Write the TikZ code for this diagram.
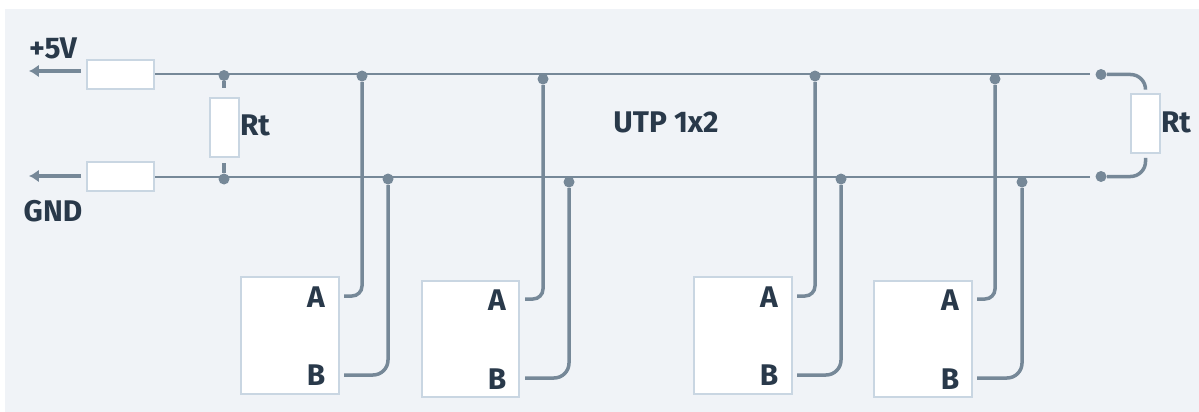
\documentclass[tikz,border=0pt]{standalone}
\usepackage{fontspec}
\setmainfont{Fira Sans}
\usetikzlibrary{%
  calc,%
  arrows.meta%
}
\definecolor{panel}{HTML}{F0F3F7}
\definecolor{edge}{HTML}{C9D6E2}
\definecolor{wirec}{HTML}{768898}
\definecolor{ink}{HTML}{29394A}
\tikzset{
  part/.style={draw=edge,fill=white,line width=0.04cm,minimum width=1.36cm,minimum height=0.58cm,inner sep=0pt},
  term/.style={part,minimum width=0.58cm,minimum height=1.18cm},
  device/.style={part,minimum width=1.96cm,minimum height=2.34cm},
  bus/.style={wirec,line width=0.04cm},
  wire/.style={wirec,line width=0.07cm,rounded corners=0.2cm},
  widewire/.style={wire,rounded corners=0.3cm},
  lead/.style={wirec,line width=0.07cm,-{Latex[length=0.2cm,width=0.26cm]}},
  dot/.style={circle,fill=wirec,minimum size=0.22cm,inner sep=0pt},
  tag/.style={ink,font=\bfseries\fontsize{17pt}{19pt}\selectfont,inner sep=0pt}
}
\begin{document}
\begin{tikzpicture}[x=0.02cm,y=-0.02cm]
  \useasboundingbox (0,0) rectangle (1199,412);
  \fill[panel] (5,9) rectangle (1199,412);

  % supply side
  \node[part] (fusep) at (120.5,74.5) {};
  \node[part] (fusen) at (120.5,176.5) {};
  \coordinate (portp) at (29,71);
  \coordinate (portn) at (29,176);
  \draw[lead] (81,71) -- (portp);
  \draw[lead] (81,176) -- (portn);
  \node[tag] (vcc) at (53,48) {+5V};
  \node[tag] (gnd) at (53,211) {GND};

  % bus ends
  \coordinate (endp) at (1090,74.5);
  \coordinate (endn) at (1090,176.5);
  \draw[bus] (fusep.east) -- (endp);
  \draw[bus] (fusen.east) -- (endn);
  \node[tag] (cable) at (666,122) {UTP 1x2};

  % left terminator
  \node[term] (rtl) at (224,127.5) {};
  \node[tag] (rtltxt) at (255,125) {Rt};
  \node[dot] (lp) at (224,75.5) {};
  \node[dot] (ln) at (224,179) {};
  \draw[wirec,line width=0.07cm] (lp) -- ($(rtl.north)+(0,-9)$);
  \draw[wirec,line width=0.07cm] (ln) -- ($(rtl.south)+(0,5)$);

  % right terminator
  \node[term] (rtr) at (1145.5,123.5) {};
  \node[tag] (rtrtxt) at (1176,122) {Rt};
  \node[dot] (rp) at (1101,74.5) {};
  \node[dot] (rn) at (1101,176.5) {};
  \draw[widewire] (rp) -| ($(rtr.north)+(0,-4)$);
  \draw[widewire] (rn) -| ($(rtr.south)+(0,4)$);

  % devices
  \node[device] (d1) at (290,335.5) {};
  \node[device] (d2) at (470.5,339) {};
  \node[device] (d3) at (742.5,335.5) {};
  \node[device] (d4) at (923,339) {};
  \node[tag] (a1) at (316,297) {A};
  \node[tag] (b1) at (316,375) {B};
  \node[tag] (a2) at (497,300) {A};
  \node[tag] (b2) at (497,379) {B};
  \node[tag] (a3) at (769,297) {A};
  \node[tag] (b3) at (769,375) {B};
  \node[tag] (a4) at (950,300) {A};
  \node[tag] (b4) at (950,379) {B};

  % taps on the bus
  \node[dot] (ta1) at (362,76) {};
  \node[dot] (tb1) at (388,179) {};
  \node[dot] (ta2) at (543,79) {};
  \node[dot] (tb2) at (569,182) {};
  \node[dot] (ta3) at (815,76) {};
  \node[dot] (tb3) at (841,179) {};
  \node[dot] (ta4) at (995,79) {};
  \node[dot] (tb4) at (1022,182) {};

  \coordinate (pa1) at (344,296);
  \coordinate (pb1) at (344,375);
  \coordinate (pa2) at (525,299);
  \coordinate (pb2) at (525,378);
  \coordinate (pa3) at (797,296);
  \coordinate (pb3) at (797,375);
  \coordinate (pa4) at (977,299);
  \coordinate (pb4) at (977,378);

  \draw[wire] (pa1) -| (ta1);
  \draw[widewire] (pb1) -| (tb1);
  \draw[wire] (pa2) -| (ta2);
  \draw[widewire] (pb2) -| (tb2);
  \draw[wire] (pa3) -| (ta3);
  \draw[widewire] (pb3) -| (tb3);
  \draw[wire] (pa4) -| (ta4);
  \draw[widewire] (pb4) -| (tb4);
\end{tikzpicture}
\end{document}
